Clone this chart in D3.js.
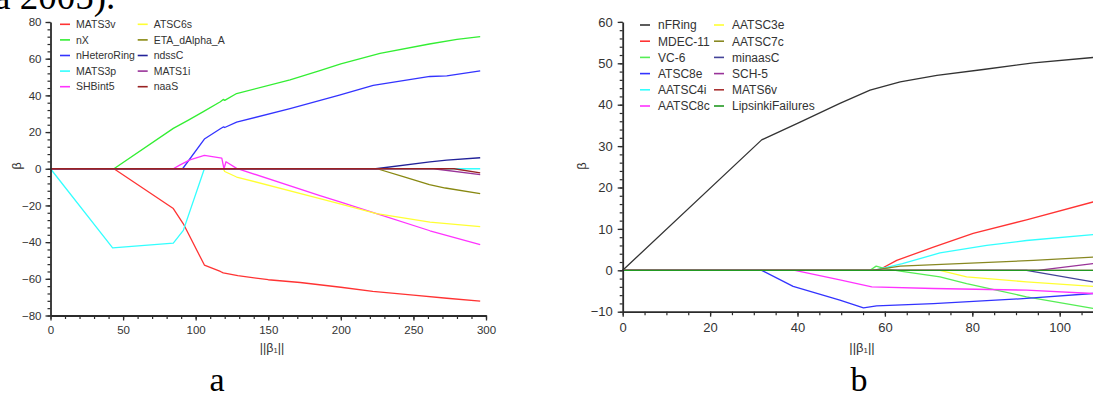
<!DOCTYPE html>
<html><head><meta charset="utf-8">
<script src="https://cdn.jsdelivr.net/npm/d3@7"></script>
<style>html,body{margin:0;padding:0;background:#fff;overflow:hidden}</style>
</head><body>
<svg id="c" width="1093" height="399"></svg>
<script>
// ---- Panel a: coefficient paths (x = ||β1||, y = β) ----
const namesA  = ["MATS3v","nX","nHeteroRing","MATS3p","SHBint5","ATSC6s","ETA_dAlpha_A","ndssC","MATS1i","naaS"];
const colorsA = ["#ff3333","#33ee33","#3333ff","#33ffff","#ff33ff","#ffff33","#888811","#222299","#993399","#992222"];
const MATS3v = [[0,0],[43.7,0],[84.6,-21.7],[91.5,-30],[106,-52.5],[117,-56],[119,-56.8],[129,-58.3],[150,-60.5],[172,-62],[200,-64.6],[222,-66.9],[250,-68.9],[273,-70.6],[296,-72.2]];
const nX = [[0,0],[43.7,0],[84.6,22],[95,26.5],[105,31],[117,36.5],[119,37.8],[120,37.3],[128.2,41],[165,48.4],[185,53.3],[200,57.2],[227,62.9],[261,68],[280,70.5],[296,72]];
const nHeteroRing = [[0,0],[91,0],[106,16.2],[117,21.8],[119,22.8],[120,22.5],[128.2,25.4],[165,32.8],[199,40.2],[222.3,45.5],[261.4,50.3],[273,50.6],[296,53.4]];
const MATS3p = [[0,0],[42.8,-43.1],[84.6,-40.5],[91.5,-33.6],[106,0],[296,0]];
const SHBint5 = [[0,0],[84.6,0],[89,2],[96,4.8],[106,7.3],[118,5.8],[119.5,0],[120.9,3.8],[128.2,0.2],[185.6,-14.6],[199.4,-18.1],[224.6,-24.5],[261.4,-33.8],[296,-41.4]];
const ATSC6s = [[0,0],[119,0],[120,-1.5],[128.2,-4.5],[185.6,-16.3],[199.4,-19.2],[224.6,-24.5],[261.4,-29.1],[296,-31.6]];
const ETA_dAlpha_A = [[0,0],[225,0],[243,-4.3],[261,-8.6],[272,-10.5],[296,-13.6]];
const ndssC = [[0,0],[224,0],[261.4,3.7],[273,4.7],[296,6]];
const MATS1i = [[0,0],[264,0],[296,-3.2]];
const naaS = [[0,0],[278,0],[296,-2.3]];
const seriesA = [MATS3v,nX,nHeteroRing,MATS3p,SHBint5,ATSC6s,ETA_dAlpha_A,ndssC,MATS1i,naaS];
const xTicksA = [0,50,100,150,200,250,300];
const yTicksA = [-80,-60,-40,-20,0,20,40,60,80];

// ---- Panel b ----
const namesB  = ["nFRing","MDEC-11","VC-6","ATSC8e","AATSC4i","AATSC8c","AATSC3e","AATSC7c","minaasC","SCH-5","MATS6v","LipsinkiFailures"];
const colorsB = ["#333333","#ff3333","#55ee55","#3333ff","#33ffff","#ff33ff","#ffff33","#888822","#444499","#993399","#aa3333","#229922"];
const nFRing = [[0,0],[31.8,31.5],[40.6,35.8],[49.7,40.3],[56.6,43.5],[63.5,45.5],[71.9,47.1],[82.5,48.5],[94,50.1],[107.6,51.4],[112,51.8]];
const MDEC11 = [[0,0],[58.5,0],[62.7,2.4],[71.1,5.6],[80.2,8.9],[92.4,12.2],[107.6,16.5],[112,17.6]];
const VC6 = [[0,0],[56.6,0],[58,1],[60,0.4],[63.5,-0.2],[72.6,-1.6],[78.7,-3.2],[92.4,-6.4],[107.6,-9.2],[112,-9.8]];
const ATSC8e = [[0,0],[31.8,0],[39,-3.9],[49.7,-7.2],[55.1,-9.1],[58.1,-8.6],[71.1,-8.05],[92.4,-6.8],[107.6,-5.6],[112,-5.3]];
const AATSC4i = [[0,0],[57.5,0],[64,1.6],[72.6,4.2],[83.3,6.0],[92.4,7.2],[107.6,8.6],[112,8.9]];
const AATSC8c = [[0,0],[39.4,0],[49.7,-2.3],[57,-4.0],[71.1,-4.4],[92.4,-4.8],[107.6,-5.6],[112,-5.8]];
const AATSC3e = [[0,0],[72.6,0],[78.7,-1.6],[92.4,-2.8],[107.6,-3.9],[112,-4.2]];
const AATSC7c = [[0,0],[57,0],[63.5,1.0],[94,2.4],[107.6,3.2],[112,3.4]];
const minaasC = [[0,0],[92.4,0],[107.6,-2.8],[112,-3.6]];
const SCH5 = [[0,0],[95,0],[107.6,1.6],[112,2.1]];
const MATS6v = [[0,0],[112,0]];
const LipsinkiFailures = [[0,0],[112,0]];
const seriesB = [nFRing,MDEC11,VC6,ATSC8e,AATSC4i,AATSC8c,AATSC3e,AATSC7c,minaasC,SCH5,MATS6v,LipsinkiFailures];
const xTicksB = [0,20,40,60,80,100];
const yTicksB = [-10,0,10,20,30,40,50,60];

const svg = d3.select("#c");
const AX = "#2b2b2b";

function panel(cfg){
  const g = svg.append("g");
  const x = d3.scaleLinear().domain(cfg.xDom).range(cfg.xRange);
  const y = d3.scaleLinear().domain(cfg.yDom).range(cfg.yRange);
  const line = d3.line().x(d=>x(d[0])).y(d=>y(d[1]));

  // series
  const lines = g.append("g");
  cfg.series.forEach((s,i)=>{
    lines.append("path").attr("d",line(s)).attr("fill","none")
      .attr("stroke",cfg.colors[i]).attr("stroke-width",1.3).attr("stroke-linejoin","round");
  });

  // minor ticks
  const bottomY = cfg.yRange[0];
  const leftX = cfg.xRange[0];
  g.append("g").attr("transform",`translate(0,${bottomY})`)
    .call(d3.axisBottom(x).tickValues(cfg.xMinor).tickSize(3.5).tickSizeOuter(0).tickFormat(""))
    .call(s=>{s.select(".domain").remove(); s.selectAll("line").attr("stroke",AX).attr("stroke-width",1.2);});
  g.append("g").attr("transform",`translate(${leftX},0)`)
    .call(d3.axisLeft(y).tickValues(cfg.yMinor).tickSize(3).tickSizeOuter(0).tickFormat(""))
    .call(s=>{s.select(".domain").remove(); s.selectAll("line").attr("stroke",AX).attr("stroke-width",1.2);});

  // major axes
  const xa = g.append("g").attr("transform",`translate(0,${bottomY})`)
    .call(d3.axisBottom(x).tickValues(cfg.xTicks).tickSize(5).tickSizeOuter(0).tickPadding(cfg.xPad));
  const ya = g.append("g").attr("transform",`translate(${leftX},0)`)
    .call(d3.axisLeft(y).tickValues(cfg.yTicks).tickSize(5).tickSizeOuter(0).tickPadding(cfg.yPad));
  [xa,ya].forEach(a=>{
    a.select(".domain").attr("stroke",AX).attr("stroke-width",1.8);
    a.selectAll("line").attr("stroke",AX).attr("stroke-width",1.3);
    a.selectAll("text").attr("fill","#333").attr("font-family","Liberation Sans, Arial, sans-serif").attr("font-size",cfg.tickFont);
  });

  // axis titles
  const xt = g.append("text").attr("x",cfg.xTitle[0]).attr("y",cfg.xTitle[1])
    .attr("text-anchor","middle").attr("font-family","Liberation Sans, Arial, sans-serif")
    .attr("font-size",cfg.titleFont).attr("fill","#333");
  xt.append("tspan").text("||β");
  xt.append("tspan").text("1").attr("font-size",cfg.titleFont*0.6).attr("dy",1);
  xt.append("tspan").text("||").attr("dy",-1);
  g.append("text").attr("transform",`translate(${cfg.yTitle[0]},${cfg.yTitle[1]}) rotate(-90)`)
    .attr("text-anchor","middle").attr("font-family","Liberation Sans, Arial, sans-serif")
    .attr("font-size",cfg.titleFont).attr("fill","#333").text("β");

  // legend
  const lg = g.append("g");
  cfg.names.forEach((n,i)=>{
    const col = Math.floor(i/cfg.rows), row = i%cfg.rows;
    const lx = cfg.legX[col], ly = cfg.legY + row*cfg.legDy;
    lg.append("line").attr("x1",lx).attr("x2",lx+10).attr("y1",ly).attr("y2",ly)
      .attr("stroke",cfg.colors[i]).attr("stroke-width",1.6);
    lg.append("text").attr("x",lx+cfg.legGap).attr("y",ly).attr("dy","0.36em")
      .attr("font-family","Liberation Sans, Arial, sans-serif").attr("font-size",cfg.legFont)
      .attr("fill","#333").text(n);
  });

  // caption letter
  svg.append("text").attr("x",cfg.cap[0]).attr("y",cfg.cap[1]).attr("text-anchor","middle")
    .attr("font-family","Liberation Serif, Times New Roman, serif").attr("font-size",34)
    .attr("fill","#000").text(cfg.capText);
}

panel({
  series:seriesA, colors:colorsA, names:namesA,
  xDom:[0,300], xRange:[50.5,486], yDom:[-80,80], yRange:[315.5,22],
  xTicks:xTicksA, yTicks:yTicksA, xMinor:d3.range(0,301,10), yMinor:d3.range(-80,81,4),
  xPad:5, yPad:4, tickFont:11.5, titleFont:12.5,
  xTitle:[272,352], yTitle:[21,166],
  legX:[60,137.7], legY:24.3, legDy:15.6, rows:5, legGap:16, legFont:10.5,
  cap:[217,391], capText:"a"
});
panel({
  series:seriesB, colors:colorsB, names:namesB,
  xDom:[0,120], xRange:[622.7,622.7+120*4.37], yDom:[-10,60], yRange:[311.7,311.7-70*4.14],
  xTicks:xTicksB, yTicks:yTicksB, xMinor:d3.range(0,121,5), yMinor:d3.range(-10,61,2),
  xPad:6, yPad:5, tickFont:13, titleFont:13,
  xTitle:[862,352], yTitle:[586,166],
  legX:[640,714], legY:25, legDy:16.2, rows:6, legGap:18, legFont:12,
  cap:[859,391], capText:"b"
});

// tail of the caption text above the figure
svg.append("text").attr("x",-6).attr("y",9)
  .attr("font-family","Liberation Serif, Times New Roman, serif").attr("font-size",37)
  .attr("fill","#000").text("a 2005).");
</script>
</body></html>
